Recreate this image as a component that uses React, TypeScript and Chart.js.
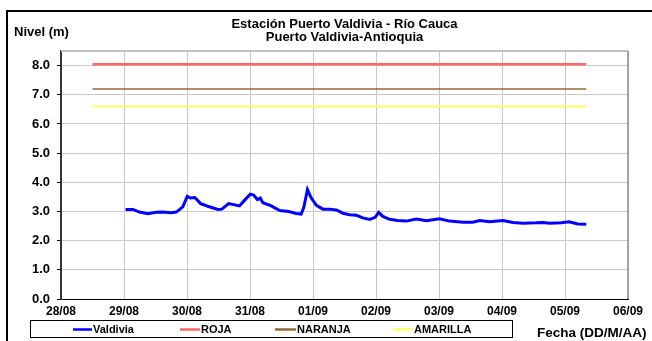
import React, { useEffect, useRef } from "react";
import { Chart, registerables } from "chart.js";

Chart.register(...registerables);

// ---- data ----
const dayLabels = ["28/08", "29/08", "30/08", "31/08", "01/09", "02/09", "03/09", "04/09", "05/09", "06/09"];
// hours since 28/08 00:00
const valdiviaHours = [
  24.6, 27.4, 29.9, 33.1, 36.3, 38.8, 42.0, 43.9, 46.4, 48.1, 49.3, 51.0, 53.2, 55.9, 59.8, 61.3,
  63.9, 68.0, 69.9, 72.1, 73.4, 74.8, 75.9, 76.9, 80.1, 83.3, 86.8, 89.6, 91.5, 92.5, 93.9, 95.3,
  97.3, 99.8, 102.3, 104.9, 107.4, 109.9, 112.5, 115.0, 117.6, 119.7, 121.0, 122.6, 125.2, 128.3,
  131.5, 135.4, 139.2, 144.2, 148.0, 153.1, 156.9, 159.5, 163.3, 168.4, 172.2, 176.0, 181.1, 183.6,
  186.2, 190.6, 193.5, 196.9, 200.1,
];
const valdiviaLevels = [
  3.07, 3.07, 2.98, 2.92, 2.97, 2.98, 2.96, 2.98, 3.16, 3.52, 3.46, 3.48, 3.27, 3.18, 3.07, 3.08,
  3.27, 3.19, 3.38, 3.59, 3.56, 3.41, 3.46, 3.30, 3.19, 3.03, 3.00, 2.93, 2.91, 3.14, 3.75, 3.47,
  3.21, 3.08, 3.08, 3.05, 2.94, 2.89, 2.87, 2.78, 2.73, 2.80, 2.97, 2.83, 2.73, 2.69,
  2.67, 2.74, 2.68, 2.75, 2.67, 2.63, 2.63, 2.69, 2.65, 2.69, 2.62, 2.60, 2.61, 2.62,
  2.60, 2.61, 2.65, 2.57, 2.56,
];
const thresholdHours = [12, 200.1];
const rojaLevel = 8.05;
const naranjaLevel = 7.2;
const amarillaLevel = 6.6;
const yTicks = [0, 1, 2, 3, 4, 5, 6, 7, 8];

const titleLines = ["Estación Puerto Valdivia - Río Cauca", "Puerto Valdivia-Antioquia"];
const yTitle = "Nivel (m)";
const xTitle = "Fecha (DD/M/AA)";

const FONT = "'Liberation Sans', Arial, sans-serif";

const extrasPlugin = {
  id: "extras",
  afterDraw(chart: any) {
    const ctx = chart.ctx as CanvasRenderingContext2D;
    const ca = chart.chartArea;
    ctx.save();
    // plot top / right borders
    ctx.strokeStyle = "#c0c0c0";
    ctx.lineWidth = 2;
    ctx.beginPath();
    ctx.moveTo(ca.left, ca.top);
    ctx.lineTo(ca.right, ca.top);
    ctx.stroke();
    ctx.strokeStyle = "#8c8c8c";
    ctx.lineWidth = 1.5;
    ctx.beginPath();
    ctx.moveTo(ca.right, ca.top);
    ctx.lineTo(ca.right, ca.bottom);
    ctx.stroke();

    // outer frame
    ctx.strokeStyle = "#000";
    ctx.lineWidth = 2;
    ctx.strokeRect(7, 11, 700, 400);

    // titles
    ctx.fillStyle = "#000";
    ctx.font = `bold 13px ${FONT}`;
    ctx.textAlign = "center";
    ctx.textBaseline = "middle";
    const cx = (ca.left + ca.right) / 2;
    ctx.fillText(titleLines[0], cx, 24.5);
    ctx.fillText(titleLines[1], cx, 37);
    ctx.textAlign = "left";
    ctx.fillText(yTitle, 14, 32.5);
    ctx.font = `bold 13.5px ${FONT}`;
    ctx.fillText(xTitle, 537, 333);

    // legend
    ctx.strokeStyle = "#000";
    ctx.lineWidth = 1;
    ctx.strokeRect(30.5, 320.5, 482, 17);
    const items = [
      { ds: 0, x0: 73, x1: 92 },
      { ds: 1, x0: 180, x1: 200 },
      { ds: 2, x0: 275, x1: 296 },
      { ds: 3, x0: 393, x1: 413 },
    ];
    ctx.font = `bold 11px ${FONT}`;
    ctx.textBaseline = "middle";
    items.forEach((it) => {
      const ds = chart.data.datasets[it.ds];
      ctx.strokeStyle = ds.borderColor;
      ctx.lineWidth = 2.5;
      ctx.beginPath();
      ctx.moveTo(it.x0, 329.5);
      ctx.lineTo(it.x1, 329.5);
      ctx.stroke();
      ctx.fillStyle = "#000";
      ctx.fillText(ds.label, it.x1 + 1, 329.5);
    });
    ctx.restore();
  },
};

export default function App() {
  const ref = useRef<HTMLCanvasElement | null>(null);
  useEffect(() => {
    if (!ref.current) return;
    const pts = (xs: number[], ys: number[]) => xs.map((x, i) => ({ x, y: ys[i] }));
    const chart = new Chart(ref.current, {
      type: "line",
      data: {
        datasets: [
          {
            label: "Valdivia",
            data: pts(valdiviaHours, valdiviaLevels),
            borderColor: "#0000ff",
            borderWidth: 3,
            pointRadius: 0,
            tension: 0,
          },
          {
            label: "ROJA",
            data: pts(thresholdHours, thresholdHours.map(() => rojaLevel)),
            borderColor: "#ff6666",
            borderWidth: 2.5,
            pointRadius: 0,
          },
          {
            label: "NARANJA",
            data: pts(thresholdHours, thresholdHours.map(() => naranjaLevel)),
            borderColor: "#996633",
            borderWidth: 1.5,
            pointRadius: 0,
          },
          {
            label: "AMARILLA",
            data: pts(thresholdHours, thresholdHours.map(() => amarillaLevel)),
            borderColor: "#ffff66",
            borderWidth: 2,
            pointRadius: 0,
          },
        ],
      },
      options: {
        animation: false,
        responsive: true,
        maintainAspectRatio: false,
        layout: { padding: { left: 0, right: 24, top: 51, bottom: 0 } },
        plugins: {
          legend: { display: false },
          title: { display: false },
          tooltip: { enabled: false },
        },
        scales: {
          x: {
            type: "linear",
            min: 0,
            max: (dayLabels.length - 1) * 24,
            afterBuildTicks: (s: any) => {
              s.ticks = dayLabels.map((_, i) => ({ value: i * 24 }));
            },
            ticks: {
              autoSkip: false,
              maxRotation: 0,
              color: "#000",
              font: { family: FONT, size: 12, weight: "bold" },
              padding: 5,
              callback: (v: any) => dayLabels[Math.round(Number(v) / 24)],
            },
            grid: { color: "#c8c8c8", lineWidth: 1, drawTicks: false },
            border: { color: "#000", width: 1 },
            afterFit: (s: any) => {
              s.height = 42;
            },
          },
          y: {
            type: "linear",
            min: 0,
            max: 8.5,
            afterBuildTicks: (s: any) => {
              s.ticks = yTicks.map((v) => ({ value: v }));
            },
            ticks: {
              color: "#000",
              font: { family: FONT, size: 13, weight: "bold" },
              padding: 7,
              callback: (v: any) => Number(v).toFixed(1),
            },
            grid: { color: "#c8c8c8", lineWidth: 1, tickColor: "#000", tickLength: 4 },
            border: { color: "#333", width: 2 },
            afterFit: (s: any) => {
              s.width = 61;
            },
          },
        },
      },
      plugins: [extrasPlugin],
    });
    return () => chart.destroy();
  }, []);
  return (
    <div style={{ position: "fixed", left: 0, top: 0, width: 652, height: 341, background: "#fff" }}>
      <canvas ref={ref} />
    </div>
  );
}
